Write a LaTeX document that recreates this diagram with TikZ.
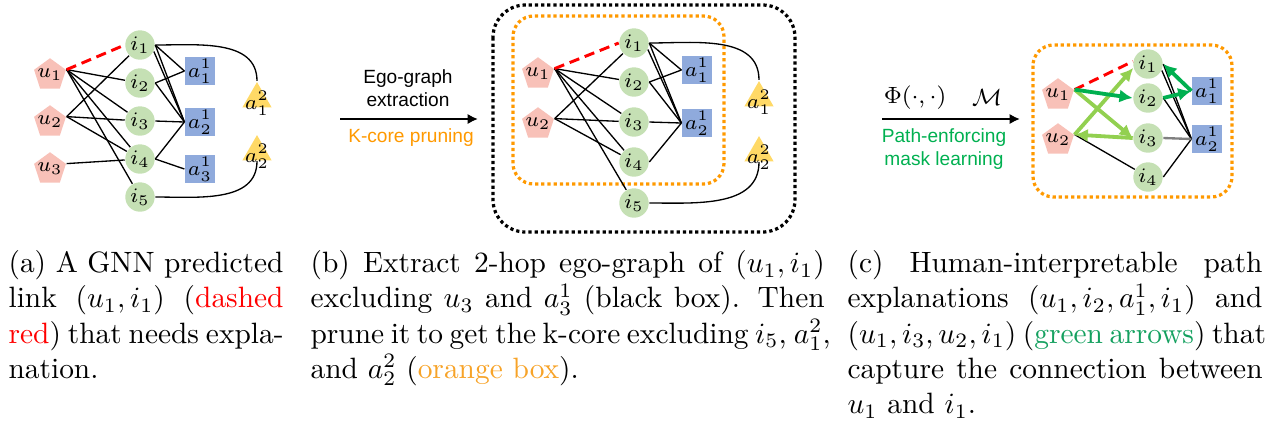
\documentclass[tikz,border=0pt]{standalone}
\usepackage{amsmath,amssymb}
\usepackage{fontspec}
\usepackage{tikz}
\usetikzlibrary{arrows.meta,shapes.geometric}
\newfontfamily\arialfont{Liberation Sans}
\definecolor{userpink}{RGB}{248,193,184}
\definecolor{itemgreen}{RGB}{197,224,180}
\definecolor{attrblue}{RGB}{143,170,220}
\definecolor{attrgold}{RGB}{255,217,102}
\definecolor{boxorange}{RGB}{255,153,0}
\definecolor{capor}{RGB}{247,163,40}
\definecolor{pathgreen}{RGB}{0,176,80}
\definecolor{lightgreen}{RGB}{146,208,80}
\definecolor{capgreen}{RGB}{20,160,95}
% one justified caption line of a given width
\newcommand{\capline}[2]{\makebox[#1][s]{#2}}

\begin{document}
\begin{tikzpicture}[>=Latex,x=0.34pt,y=-0.34pt,
  lbl/.style={font=\fontsize{7.2}{8}\selectfont,inner sep=0pt},
  user/.style={regular polygon,regular polygon sides=5,fill=userpink,minimum size=11.4pt,inner sep=0pt,label={[lbl]center:$#1$}},
  item/.style={circle,fill=itemgreen,minimum size=10pt,inner sep=0pt,label={[lbl]center:$#1$}},
  attrone/.style={rectangle,fill=attrblue,minimum width=10.2pt,minimum height=9.5pt,inner sep=0pt,label={[lbl]center:$#1$}},
  attrtwo/.style={regular polygon,regular polygon sides=3,fill=attrgold,minimum size=11.5pt,inner sep=0pt,label={[lbl,yshift=-1.5pt]center:$#1$}},
  edge/.style={line width=0.45pt},
  pred/.style={red,line width=1pt,dash pattern=on 3.5pt off 2pt},
  pathA/.style={-{Latex[length=4.5pt,width=4.5pt]},pathgreen,line width=1.3pt},
  pathB/.style={-{Latex[length=4.5pt,width=4.5pt]},lightgreen,line width=1.3pt},
  flow/.style={-{Latex[length=3.5pt,width=3.5pt]},line width=0.9pt},
  sans/.style={font=\arialfont\fontsize{6.5}{7.7}\selectfont,inner sep=0pt,align=center},
  blackbox/.style={densely dotted,line width=1.1pt,rounded corners=11pt},
  orangebox/.style={boxorange,densely dotted,line width=1.1pt,rounded corners=7pt},
  captext/.style={anchor=north west,inner sep=0pt,align=left}]
  \useasboundingbox (0,0) rectangle (1275,427);
  % (a) the whole graph
  \foreach \k/\y in {1/75,2/122,3/169}{\node[user=u_\k] (a-u\k) at (50,\y) {};}
  \foreach \k/\y in {1/45,2/83,3/121,4/159,5/197}{\node[item=i_\k] (a-i\k) at (140,\y) {};}
  \foreach \k/\y in {1/71,2/122,3/169}{\node[attrone=a_\k^1] (a-s\k) at (200,\y) {};}
  \node[attrtwo=a_1^2] (a-t1) at (257,99) {};
  \node[attrtwo=a_2^2] (a-t2) at (257,152) {};
  \foreach \k in {2,...,5}{\draw[edge] (a-u1.corner 5) -- (a-i\k);}
  \foreach \k in {1,3,4}{\draw[edge] (a-u2.corner 5) -- (a-i\k);}
  \draw[edge] (a-u3.corner 5) -- (a-i4);
  \foreach \p/\q in {1/1,1/2,2/1,2/2,3/2,4/2,4/3}{\draw[edge] (a-i\p.east) -- (a-s\q.west);}
  \draw[edge] (a-i1.-25) -- (a-s2.west);
  \draw[edge] (a-i1.east) to[out=0,in=90] (a-t1.corner 1);
  \draw[edge] (a-i5.east) to[out=0,in=-90] (a-t2.south);
  \draw[pred] (a-u1.corner 5) -- (a-i1.west);
  % first step
  \coordinate (f1s) at (340,119);
  \coordinate (f1e) at (478,119);
  \draw[flow] (f1s) -- (f1e);
  \node[sans] (ego) at (408,88) {Ego-graph\\extraction};
  \node[sans,text=boxorange] (kcore) at (411,138) {K-core pruning};
  % (b) ego-graph and k-core
  \draw[blackbox] (493,5) rectangle (795,232);
  \draw[orangebox] (513,16) rectangle (724,184);
  \foreach \k/\y in {1/74,2/124}{\node[user=u_\k] (b-u\k) at (538,\y) {};}
  \foreach \k/\y in {1/43,2/82,3/122,4/162,5/203}{\node[item=i_\k] (b-i\k) at (634,\y) {};}
  \foreach \k/\y in {1/70,2/123}{\node[attrone=a_\k^1] (b-s\k) at (697,\y) {};}
  \node[attrtwo=a_1^2] (b-t1) at (759,98) {};
  \node[attrtwo=a_2^2] (b-t2) at (759,153) {};
  \foreach \k in {2,...,5}{\draw[edge] (b-u1.corner 5) -- (b-i\k);}
  \foreach \k in {1,3,4}{\draw[edge] (b-u2.corner 5) -- (b-i\k);}
  \foreach \p/\q in {1/1,1/2,2/1,2/2,3/2,4/2}{\draw[edge] (b-i\p.east) -- (b-s\q.west);}
  \draw[edge] (b-i1.-25) -- (b-s2.west);
  \draw[edge] (b-i1.east) to[out=0,in=90] (b-t1.corner 1);
  \draw[edge] (b-i5.east) to[out=0,in=-90] (b-t2.south);
  \draw[pred] (b-u1.corner 5) -- (b-i1.west);
  % second step
  \coordinate (f2s) at (882,119);
  \coordinate (f2e) at (1020,119);
  \draw[flow] (f2s) -- (f2e);
  \node[font=\fontsize{8.2}{9.8}\selectfont] (phi) at (915,98) {$\Phi(\cdot,\cdot)$};
  \node[font=\fontsize{8.2}{9.8}\selectfont] (mask) at (987,97) {$\mathcal{M}$};
  \node[sans,text=pathgreen] (pemask) at (944,149) {Path-enforcing\\mask learning};
  % (c) path explanations
  \draw[orangebox] (1033,45) rectangle (1232,197);
  \foreach \k/\y in {1/95,2/140}{\node[user=u_\k] (c-u\k) at (1058,\y) {};}
  \foreach \k/\y in {1/64,2/98,3/138,4/177}{\node[item=i_\k] (c-i\k) at (1148,\y) {};}
  \foreach \k/\y in {1/91,2/139}{\node[attrone=a_\k^1] (c-s\k) at (1207,\y) {};}
  \draw[edge] (c-u2.corner 5) -- (c-i4);
  \foreach \k in {1,2,4}{\draw[edge] (c-i\k.east) -- (c-s2.west);}
  \draw[edge] (c-i1.-25) -- (c-s2.west);
  \draw[gray,line width=0.8pt] (c-i3.east) -- (c-s2.west);
  \draw[pred] (c-u1.corner 5) -- (c-i1.170);
  \draw[pathB] (c-u1.corner 5) -- (c-i3.west);
  \draw[pathB] (c-i3.west) -- (c-u2.corner 5);
  \draw[pathB] (c-u2.corner 5) -- (c-i1.195);
  \draw[pathA] (c-u1.corner 5) -- (c-i2.west);
  \draw[pathA] (c-i2.east) -- (c-s1.west);
  \draw[pathA] (c-s1.west) -- (c-i1.east);
  % captions
  \node[captext] (capa) at (8,250) {\capline{93.5pt}{(a) A GNN predicted}\\
    \capline{93.5pt}{link $(u_1,i_1)$ (\textcolor{red}{dashed}}\\
    \capline{93.5pt}{\textcolor{red}{red}) that needs expla-}\\
    nation.};
  \node[captext] (capb) at (310,250) {\capline{174.8pt}{(b) Extract 2-hop ego-graph of $(u_1,i_1)$}\\
    \capline{174.8pt}{excluding $u_3$ and $a_3^1$ (black box). Then}\\
    \capline{174.8pt}{prune it to get the k-core excluding $i_5$, $a_1^2$,}\\
    and $a_2^2$ (\textcolor{capor}{orange box}).};
  \node[captext] (capc) at (847,250) {\capline{141.1pt}{(c) Human-interpretable path}\\
    \capline{141.1pt}{explanations $(u_1,i_2,a_1^1,i_1)$ and}\\
    \capline{141.1pt}{$(u_1,i_3,u_2,i_1)$ (\textcolor{capgreen}{green arrows}) that}\\
    \capline{141.1pt}{capture the connection between}\\
    $u_1$ and $i_1$.};
\end{tikzpicture}
\end{document}
